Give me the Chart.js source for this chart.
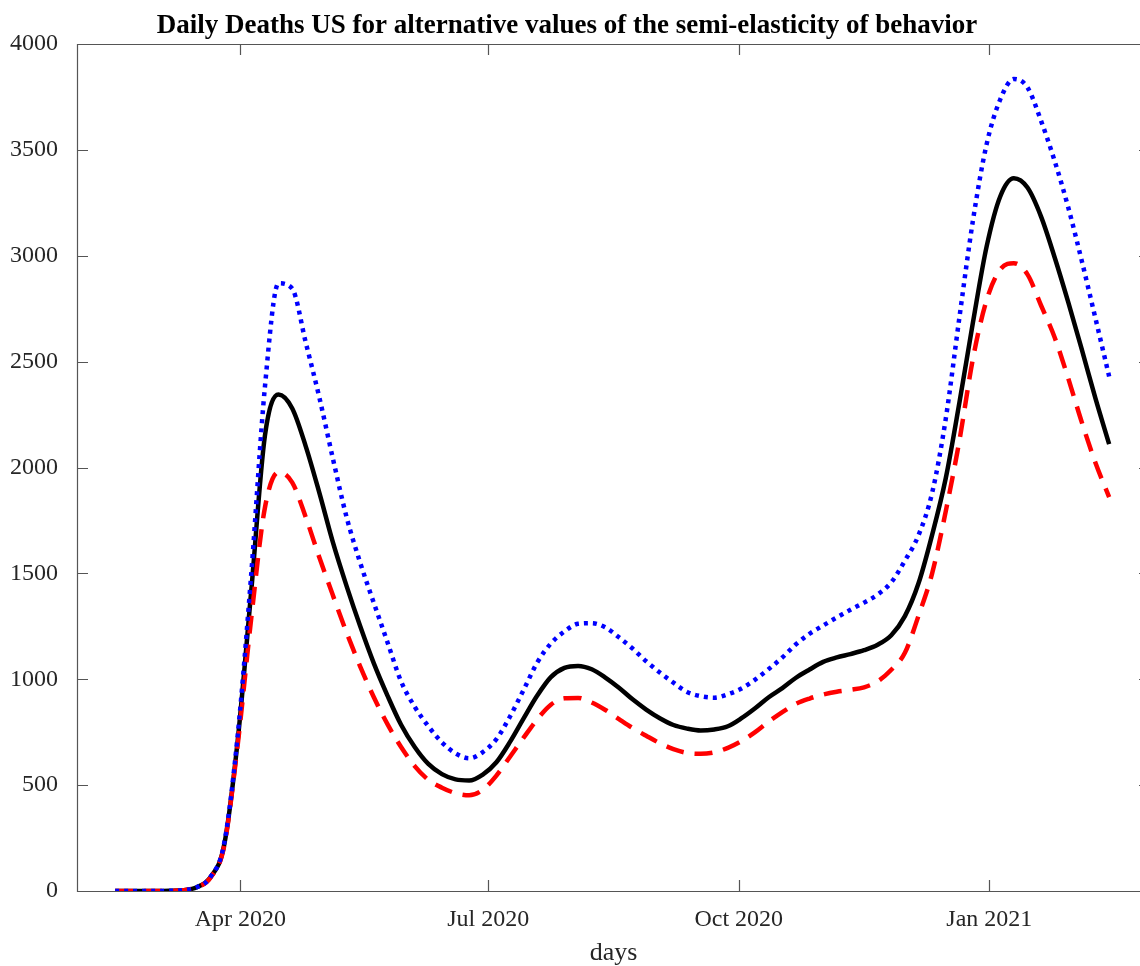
<!DOCTYPE html>
<html>
<head>
<meta charset="utf-8">
<script src="https://cdn.jsdelivr.net/npm/chart.js@4.4.0/dist/chart.umd.min.js"></script>
<style>
  html, body { margin: 0; padding: 0; background: #fff; overflow: hidden; }
  #wrap { width: 1140px; height: 966px; overflow: hidden; }
</style>
</head>
<body>
<div id="wrap"><canvas id="deathsChart" width="1160" height="966"></canvas></div>
<script>
// dias contados desde el 1 de enero de 2020
const days = [45,50,55,60,65,70,75,80,85,90,95,100,105,110,115,120,125,130,135,140,
  145,150,155,160,165,170,175,180,185,190,195,200,205,210,215,220,225,230,235,240,
  245,250,255,260,265,270,275,280,285,290,295,300,305,310,315,320,325,330,335,340,
  345,350,355,360,365,370,375,380,385,390,395,400,405,410];

// muertes diarias: caso base (negra), semi-elasticidad baja (azul), alta (roja)
const deathsBase = [0,0,0,0,1,4,18,65,215,710,1420,2150,2345,2280,2100,1880,1645,1440,1250,1075,
  923,785,680,600,552,527,522,550,608,704,815,923,1010,1054,1063,1047,1008,960,905,857,
  816,784,767,758,763,778,816,863,915,958,1007,1046,1082,1103,1119,1137,1163,1208,1298,1453,
  1682,1949,2305,2686,3043,3280,3366,3322,3185,2992,2780,2555,2325,2110];

const deathsHigh = [0,0,0,0,1,4,18,66,222,735,1500,2380,2870,2845,2590,2330,2040,1765,1550,1360,
  1175,990,870,778,702,650,627,656,717,824,950,1079,1169,1226,1262,1265,1245,1198,1145,1085,
  1032,984,940,920,913,929,956,998,1048,1103,1165,1215,1254,1292,1328,1362,1400,1458,1560,1680,
  1880,2230,2707,3168,3526,3738,3835,3795,3637,3447,3227,2973,2703,2430];

const deathsLow = [0,0,0,0,1,4,18,63,210,690,1290,1810,1978,1930,1765,1575,1395,1220,1060,915,
  788,680,590,525,488,462,452,478,545,634,724,811,880,910,912,890,855,812,770,733,
  698,670,652,648,655,676,708,750,800,845,884,909,928,941,950,962,990,1045,1125,1300,
  1500,1793,2126,2515,2790,2935,2965,2912,2765,2614,2420,2212,2021,1860];

const tickDays = [91, 182, 274, 366];
const tickLabels = ['Apr 2020', 'Jul 2020', 'Oct 2020', 'Jan 2021'];

const serif = "'Liberation Serif', 'Times New Roman', serif";

function toPoints(values) {
    return days.map((d, i) => ({ x: d, y: values[i] }));
}

// caja estilo MATLAB con marcas hacia dentro y titulo
const matlabBox = {
    id: 'matlabBox',
    afterDatasetsDraw(chart) {
        const ctx = chart.ctx;
        const a = chart.chartArea;
        const xs = chart.scales.x;
        const ys = chart.scales.y;
        const tl = 11;
        ctx.save();
        ctx.strokeStyle = '#555';
        ctx.lineWidth = 1.2;
        ctx.beginPath();
        ctx.rect(a.left + 0.5, a.top + 0.5, a.right - a.left, a.bottom - a.top);
        xs.ticks.forEach(t => {
            const px = Math.round(xs.getPixelForValue(t.value)) + 0.5;
            ctx.moveTo(px, a.bottom);
            ctx.lineTo(px, a.bottom - tl);
            ctx.moveTo(px, a.top);
            ctx.lineTo(px, a.top + tl);
        });
        ys.ticks.forEach(t => {
            const py = Math.round(ys.getPixelForValue(t.value)) + 0.5;
            ctx.moveTo(a.left, py);
            ctx.lineTo(a.left + tl, py);
            ctx.moveTo(a.right, py);
            ctx.lineTo(a.right - tl, py);
        });
        ctx.stroke();

        ctx.fillStyle = '#000';
        ctx.font = 'bold 27px ' + serif;
        ctx.textAlign = 'center';
        ctx.textBaseline = 'alphabetic';
        ctx.fillText('Daily Deaths US for alternative values of the semi-elasticity of behavior', 567, 33);
        ctx.restore();
    }
};

const ctx = document.getElementById('deathsChart').getContext('2d');
const deathsChart = new Chart(ctx, {
    type: 'line',
    data: {
        datasets: [{
            label: 'high',
            data: toPoints(deathsHigh),
            borderColor: '#0000ff',
            borderWidth: 4.5,
            borderDash: [4, 5],
            borderCapStyle: 'butt'
        }, {
            label: 'low',
            data: toPoints(deathsLow),
            borderColor: '#ff0000',
            borderWidth: 4.5,
            borderDash: [18, 11],
            borderCapStyle: 'butt'
        }, {
            label: 'base',
            data: toPoints(deathsBase),
            borderColor: '#000000',
            borderWidth: 4.5
        }]
    },
    options: {
        responsive: false,
        animation: false,
        devicePixelRatio: 1,
        layout: {
            padding: { left: 0, right: 10, top: 44, bottom: 0 }
        },
        elements: {
            point: { radius: 0 },
            line: { cubicInterpolationMode: 'monotone', fill: false }
        },
        scales: {
            x: {
                type: 'linear',
                min: 31,
                max: 425,
                grid: { display: false },
                border: { display: false },
                afterBuildTicks: function(scale) {
                    scale.ticks = tickDays.map(v => ({ value: v }));
                },
                afterFit: function(scale) {
                    scale.height = 75;
                },
                ticks: {
                    autoSkip: false,
                    maxRotation: 0,
                    padding: 6,
                    color: '#262626',
                    font: { family: serif, size: 24 },
                    callback: function(value, index) {
                        return tickLabels[index];
                    }
                },
                title: {
                    display: true,
                    text: 'days',
                    color: '#262626',
                    font: { family: serif, size: 26, lineHeight: 1 },
                    padding: { top: 12, bottom: 0 }
                }
            },
            y: {
                min: 0,
                max: 4000,
                grid: { display: false },
                border: { display: false },
                afterFit: function(scale) {
                    scale.width = 77;
                },
                ticks: {
                    stepSize: 500,
                    padding: 11,
                    color: '#262626',
                    font: { family: serif, size: 24 },
                    callback: function(value) {
                        return String(value);
                    }
                }
            }
        },
        plugins: {
            legend: { display: false },
            tooltip: { enabled: false },
            title: { display: false }
        }
    },
    plugins: [matlabBox]
});
</script>
</body>
</html>
